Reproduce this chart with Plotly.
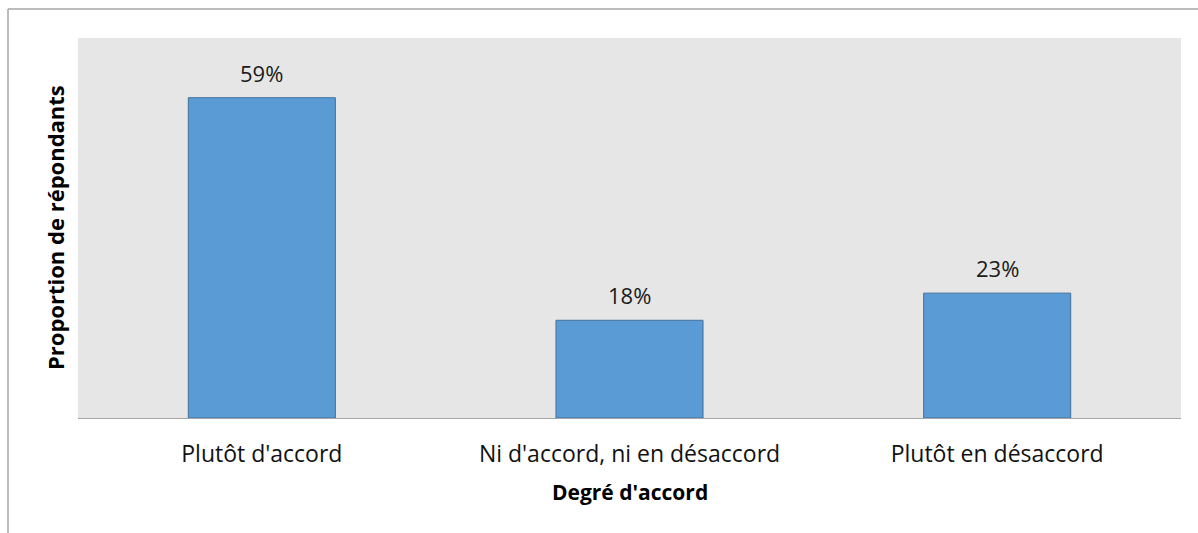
import plotly.graph_objects as go

# Survey results: share of respondents by level of agreement
categories = ["Plutôt d'accord", "Ni d'accord, ni en désaccord", "Plutôt en désaccord"]
values = [59, 18, 23]
value_labels = ["59%", "18%", "23%"]

W, H = 1198, 533
M_L, M_R, M_T, M_B = 78, 17, 38, 115
PW = W - M_L - M_R
PH = H - M_T - M_B


def px_x(x):
    return (x - M_L) / PW


def px_y(y):
    return (H - M_B - y) / PH


FONT = "Open Sans, Noto Sans, sans-serif"

fig = go.Figure(
    go.Bar(
        x=categories,
        y=values,
        width=0.4,
        marker=dict(color="#5b9bd5", line=dict(color="#41719c", width=1)),
        hoverinfo="skip",
    )
)

# value labels above each bar
for c, v, t in zip(categories, values, value_labels):
    fig.add_annotation(
        x=c, y=v, text=t, showarrow=False, xref="x", yref="y",
        yanchor="bottom", yshift=8,
        font=dict(family=FONT, size=22, color="#1a1a1a"),
    )

# axis titles
fig.add_annotation(
    x=0.5, xref="paper", y=px_y(492), yref="paper", text="<b>Degré d'accord</b>",
    showarrow=False, xanchor="center", yanchor="middle",
    font=dict(family=FONT, size=21, color="#000000"),
)
fig.add_annotation(
    x=px_x(55), xref="paper", y=0.5, yref="paper", text="<b>Proportion de répondants</b>",
    showarrow=False, textangle=-90, xanchor="center", yanchor="middle",
    font=dict(family=FONT, size=22, color="#000000"),
)

# chart frame (top and left edges)
frame = dict(color="#a6a6a6", width=1.5)
fig.add_shape(type="line", xref="paper", yref="paper",
              x0=px_x(8), x1=px_x(W), y0=px_y(9), y1=px_y(9), line=frame)
fig.add_shape(type="line", xref="paper", yref="paper",
              x0=px_x(8), x1=px_x(8), y0=px_y(9), y1=px_y(H), line=frame)

fig.update_layout(
    width=W, height=H,
    margin=dict(l=M_L, r=M_R, t=M_T, b=M_B, pad=0),
    paper_bgcolor="#ffffff",
    plot_bgcolor="#e6e6e6",
    showlegend=False,
    bargap=0.6,
    xaxis=dict(
        showline=True, linecolor="#a6a6a6", linewidth=1,
        showgrid=False, zeroline=False, ticks="",
        ticklabelstandoff=15,
        tickfont=dict(family=FONT, size=23, color="#111111"),
    ),
    yaxis=dict(
        range=[0, 70], showgrid=False, zeroline=False,
        showticklabels=False, ticks="", showline=False,
    ),
)

fig.write_html("out.html")
